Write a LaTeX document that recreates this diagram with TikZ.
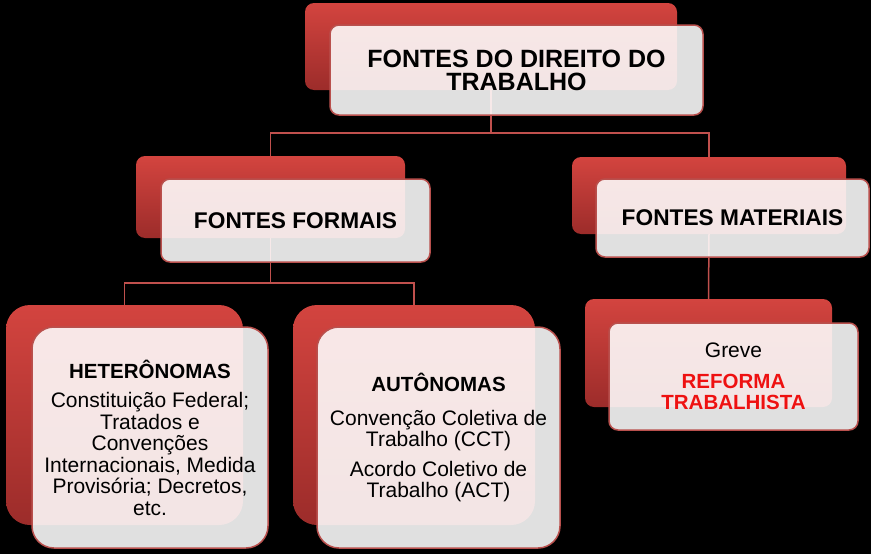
\documentclass[tikz,border=0pt]{standalone}
\usepackage{fontspec}
\setmainfont{Liberation Sans}
\usetikzlibrary{calc}
\definecolor{redtop}{HTML}{D3443F}
\definecolor{redbot}{HTML}{9C2C2A}
\definecolor{framecol}{HTML}{B9504D}
\definecolor{conncol}{HTML}{C0504D}
\definecolor{brightred}{HTML}{EE1111}
\pgfdeclarelayer{bg}
\pgfsetlayers{bg,main}
\newcommand{\rfm}[1]{\textcolor{brightred}{\bfseries\fontsize{20.5}{20}\selectfont #1}}
\tikzset{
  backbox/.style={rectangle, rounded corners=#1, top color=redtop, bottom color=redbot,
    draw=none, inner sep=0pt, outer sep=0pt},
  backbox/.default=9pt,
  frontbox/.style={rectangle, rounded corners=#1, fill=white, fill opacity=0.88, text opacity=1,
    draw=framecol, draw opacity=1, line width=1.5pt, inner sep=0pt, outer sep=0pt, align=center},
  frontbox/.default=9pt,
  conn/.style={draw=conncol, line width=1.5pt},
  bigtitle/.style={font=\fontsize{25}{23}\selectfont\bfseries},
  midtitle/.style={font=\fontsize{22.7}{23}\selectfont\bfseries},
  bodytext/.style={font=\fontsize{21}{21.5}\selectfont},
}
\begin{document}
\begin{tikzpicture}[x=1pt,y=-1pt]
\useasboundingbox (0,0) rectangle (871,554);
% back boxes
\node[backbox, minimum width=372pt, minimum height=87pt] (topback) at (491,46.5) {};
\node[backbox, minimum width=269pt, minimum height=82pt] (formback) at (270.5,197) {};
\node[backbox, minimum width=274pt, minimum height=77pt] (matback) at (709,195.5) {};
\node[backbox=24pt, minimum width=237pt, minimum height=220pt] (hetback) at (124.5,415) {};
\node[backbox=24pt, minimum width=242pt, minimum height=220pt] (autback) at (414,415) {};
\node[backbox, minimum width=247pt, minimum height=108pt] (grevback) at (708.5,353) {};
% front boxes
\node[frontbox, bigtitle, minimum width=373pt, minimum height=90pt] (top) at (516.5,70)
  {FONTES DO DIREITO DO\\TRABALHO};
\node[frontbox, midtitle, minimum width=269pt, minimum height=83pt] (form) at (295.5,220.5)
  {FONTES FORMAIS};
\node[frontbox, midtitle, minimum width=273pt, minimum height=78pt] (mat) at (732.5,218)
  {FONTES MATERIAIS};
\node[frontbox=22pt, bodytext, minimum width=236pt, minimum height=221pt] (het) at (150,437.5)
  {{\bfseries\fontsize{20.5}{21}\selectfont HETERÔNOMAS}\\[8pt]
   Constituição Federal;\\ Tratados e\\ Convenções\\ Internacionais, Medida\\
   Provisória; Decretos,\\ etc.};
\node[frontbox=22pt, bodytext, minimum width=243pt, minimum height=221pt] (aut) at (438.5,437.5)
  {{\bfseries\fontsize{20.5}{21}\selectfont AUTÔNOMAS}\\[12pt]
   Convenção Coletiva de\\ Trabalho (CCT)\\[8pt]
   Acordo Coletivo de\\ Trabalho (ACT)};
\node[frontbox, bodytext, minimum width=249pt, minimum height=107pt] (greve) at (733.5,376.5)
  {Greve\\[9pt] \rfm{REFORMA}\\ \rfm{TRABALHISTA}};
% background and connectors
\begin{pgfonlayer}{bg}
  \fill[black] (0,0) rectangle (871,554);
  \draw[conn] (topback.south) -- ++(0,43) -| (formback.north);
  \draw[conn] (topback.south) -- ++(0,43) -| (matback.north);
  \draw[conn] (formback.south) -- ++(0,45) -| (hetback.north);
  \draw[conn] (formback.south) -- ++(0,45) -| (autback.north);
  \draw[conn] (matback.south) -- (grevback.north);
\end{pgfonlayer}
\end{tikzpicture}
\end{document}
